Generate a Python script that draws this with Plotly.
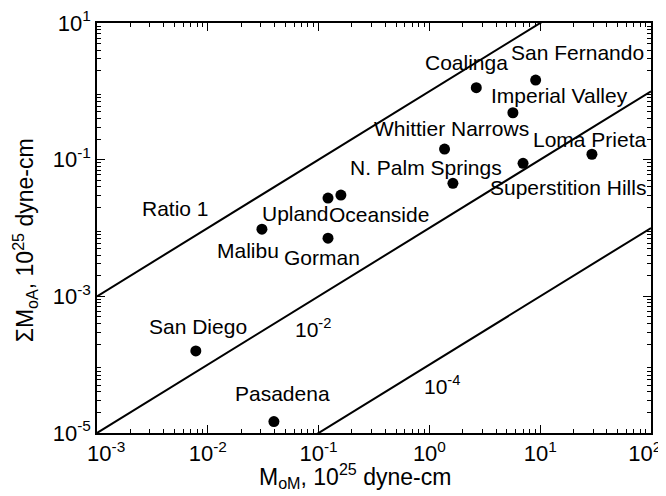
import numpy as np
import plotly.graph_objects as go

# ---- data ----
events = ["San Diego", "Pasadena", "Malibu", "Upland", "Oceanside", "Gorman",
          "Coalinga", "San Fernando", "Imperial Valley", "Whittier Narrows",
          "N. Palm Springs", "Superstition Hills", "Loma Prieta"]
moM = [0.0078, 0.0395, 0.0308, 0.1216, 0.159, 0.1216,
       2.65, 9.1, 5.67, 1.37, 1.63, 7.0, 29.3]
sum_moA = [1.59e-4, 1.47e-5, 0.0096, 0.0274, 0.0303, 0.0071,
           1.13, 1.46, 0.486, 0.143, 0.045, 0.0883, 0.12]

ratios = [1.0, 1e-2, 1e-4]
ratio_labels = ["Ratio 1", "10<sup>-2</sup>", "10<sup>-4</sup>"]
ratio_label_x = [0.00516, 0.089, 1.3]
ratio_label_y = [0.0195, 3.42e-4, 5.0e-5]

x_range = [1e-3, 1e2]
y_range = [1e-5, 1e1]
x_ticks = [1e-3, 1e-2, 1e-1, 1e0, 1e1, 1e2]
x_ticktext = ["\u00a0\u00a0\u00a010<sup>-3</sup>", "10<sup>-2</sup>", "10<sup>-1</sup>",
              "10<sup>0</sup>", "10<sup>1</sup>", "10<sup>2</sup>\u00a0\u00a0"]
y_ticks = [1e-5, 1e-3, 1e-1, 1e1]
y_ticktext = ["10<sup>-5</sup>", "10<sup>-3</sup>", "10<sup>-1</sup>", "10<sup>1</sup>"]
x_title = "M<sub>oM</sub>, 10<sup>25</sup> dyne-cm"
y_title = "ΣM<sub>oA</sub>, 10<sup>25</sup> dyne-cm"

# ---- styling (label offsets in pixels: dx right, dy down) ----
label_offsets = {
    "San Diego": (2, -24), "Pasadena": (9, -28), "Malibu": (-14, 21),
    "Upland": (-33, 15), "Oceanside": (38, 19), "Gorman": (-6, 19),
    "Coalinga": (-10, -25), "San Fernando": (42, -28),
    "Imperial Valley": (47, -17), "Whittier Narrows": (7, -21),
    "N. Palm Springs": (-27, -16), "Superstition Hills": (45, 24),
    "Loma Prieta": (-2, -15),
}
FONT = "Liberation Sans"
LBL = 21

fig = go.Figure()
for r in ratios:
    fig.add_trace(go.Scatter(x=x_range, y=[r * v for v in x_range], mode="lines",
                             line=dict(color="black", width=2), showlegend=False,
                             hoverinfo="skip"))
fig.add_trace(go.Scatter(x=moM, y=sum_moA, mode="markers",
                         marker=dict(color="black", size=11), showlegend=False,
                         text=events))

annotations = []
for name, xv, yv in zip(events, moM, sum_moA):
    dx, dy = label_offsets[name]
    annotations.append(dict(x=np.log10(xv), y=np.log10(yv), text=name, showarrow=False,
                            xshift=dx, yshift=-dy,
                            font=dict(size=LBL, color="black", family=FONT)))
for t, xv, yv in zip(ratio_labels, ratio_label_x, ratio_label_y):
    annotations.append(dict(x=np.log10(xv), y=np.log10(yv), text=t, showarrow=False,
                            font=dict(size=LBL, color="black", family=FONT)))
# axis titles
annotations.append(dict(xref="paper", yref="paper", x=0.466, y=-0.105, text=x_title,
                        showarrow=False, xanchor="center", yanchor="middle",
                        font=dict(size=23, color="black", family=FONT)))
annotations.append(dict(xref="paper", yref="paper", x=-0.13, y=0.47, text=y_title,
                        showarrow=False, xanchor="center", yanchor="middle", textangle=-90,
                        font=dict(size=23, color="black", family=FONT)))

def minor_vals(lo, hi):
    vals = []
    for e in range(lo, hi):
        for m in range(2, 10):
            vals.append(m * 10.0 ** e)
    return vals

axis_common = dict(type="log", showgrid=False, zeroline=False, showline=True,
                   automargin=False, ticklabeloverflow="allow",
                   linecolor="black", linewidth=1.5, mirror="ticks",
                   ticks="inside", ticklen=8, tickwidth=1.3, tickcolor="black",
                   tickfont=dict(size=22, color="black", family=FONT))

fig.update_xaxes(**axis_common, range=[-3, 2], tickmode="array", tickvals=x_ticks,
                 ticktext=x_ticktext,
                 minor=dict(ticks="inside", ticklen=4, tickcolor="black", tickwidth=1,
                            tickmode="array", tickvals=minor_vals(-3, 2), showgrid=False))
fig.update_yaxes(**axis_common, range=[-5, 1], tickmode="array", tickvals=y_ticks,
                 ticktext=y_ticktext,
                 minor=dict(ticks="inside", ticklen=4, tickcolor="black", tickwidth=1,
                            tickmode="array", tickvals=minor_vals(-5, 1), showgrid=False))

# the page body adds an 8px offset; size the figure so the plot area lands where the reference has it
fig.update_layout(width=658, height=488, margin=dict(l=89, r=15, t=15, b=63),
                  plot_bgcolor="white", paper_bgcolor="white",
                  annotations=annotations, font=dict(family=FONT, color="black"))

fig.write_html("out.html")
